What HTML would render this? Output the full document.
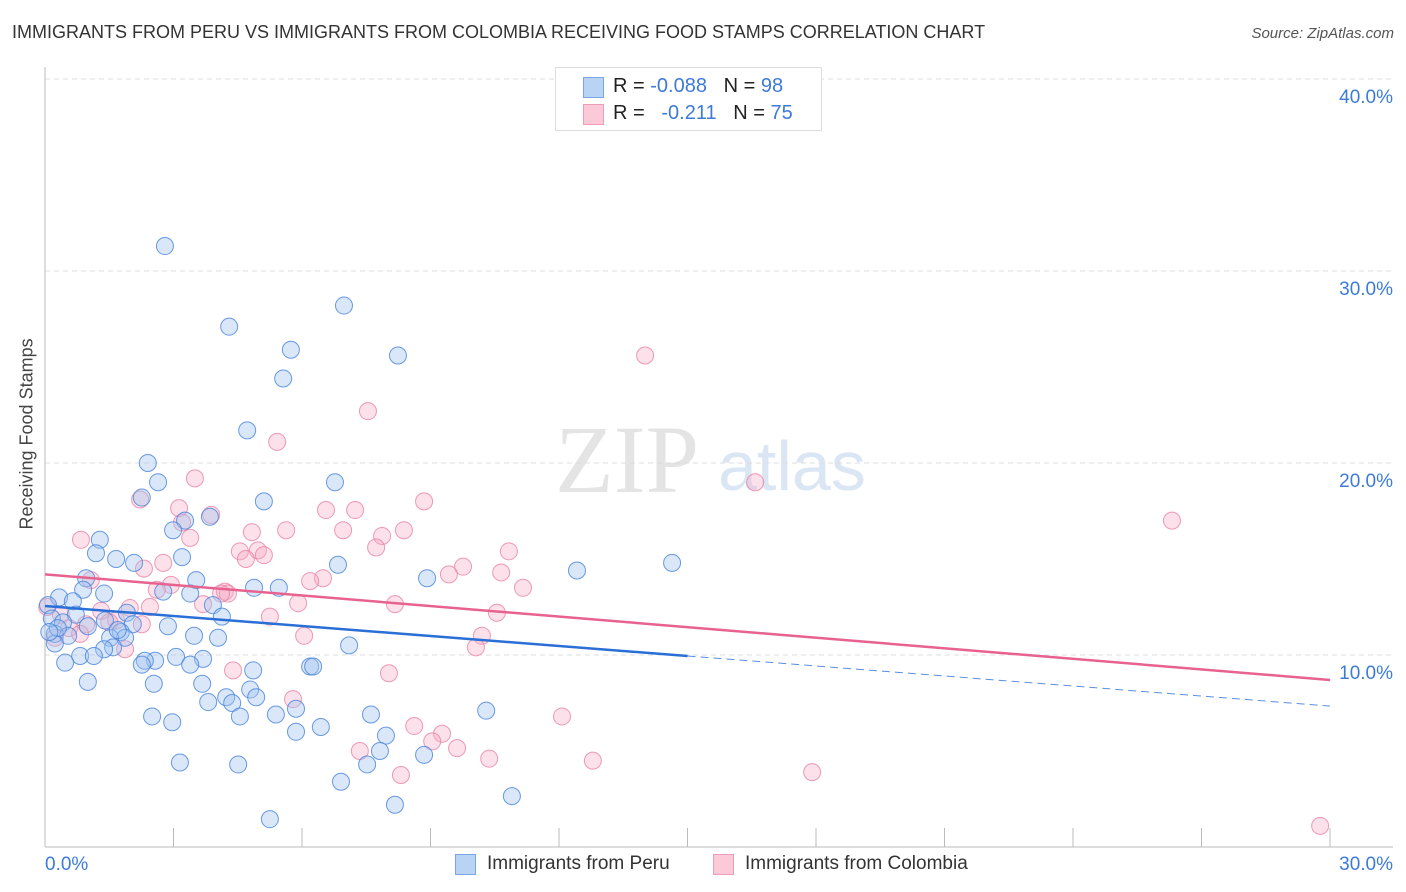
<!DOCTYPE html>
<html><head><meta charset="utf-8"><style>
body{margin:0;background:#fff;font-family:"Liberation Sans",sans-serif;}
#wrap{position:relative;width:1406px;height:892px;overflow:hidden;}
.t{position:absolute;white-space:nowrap;}
</style></head><body>
<div id="wrap">
<div class="t" style="left:12px;top:22px;font-size:18px;color:#333;">IMMIGRANTS FROM PERU VS IMMIGRANTS FROM COLOMBIA RECEIVING FOOD STAMPS CORRELATION CHART</div>
<div class="t" style="right:12px;top:25px;font-size:15px;color:#555;font-style:italic;">Source: ZipAtlas.com</div>
<div class="t" style="left:-48px;top:444px;font-size:18px;color:#444;transform:rotate(-90deg);transform-origin:center;width:150px;text-align:center;">Receiving Food Stamps</div>
<svg id="chart" width="1406" height="892" style="position:absolute;left:0;top:0;">
<text x="555" y="492" font-family="Liberation Serif,serif" font-size="96" fill="#e4e4e4">ZIP</text>
<text x="718" y="490" font-family="Liberation Sans,sans-serif" font-size="70" fill="#dbe6f5">atlas</text>
</svg>
<div style="position:absolute;left:555px;top:67px;width:265px;height:62px;border:1px solid #ddd;background:#fff;font-size:20px;">
 <div style="position:absolute;left:27px;top:9px;width:19px;height:19px;background:#b9d3f5;border:1px solid #7aa6e8;"></div>
 <div class="t" style="left:57px;top:7px;color:#222;">R = <span style="color:#3d7bd9">-0.088</span>&nbsp;&nbsp;&nbsp;N = <span style="color:#3d7bd9">98</span></div>
 <div style="position:absolute;left:27px;top:36px;width:19px;height:19px;background:#fbc9d7;border:1px solid #ef9db6;"></div>
 <div class="t" style="left:57px;top:34px;color:#222;">R = &nbsp;&nbsp;<span style="color:#3d7bd9">-0.211</span>&nbsp;&nbsp;&nbsp;N = <span style="color:#3d7bd9">75</span></div>
</div>
<div style="position:absolute;left:455px;top:853px;font-size:19px;color:#333;">
 <div style="position:absolute;left:0;top:1px;width:19px;height:19px;background:#b9d3f5;border:1px solid #7aa6e8;"></div>
 <div class="t" style="left:32px;top:0;">Immigrants from Peru</div>
 <div style="position:absolute;left:258px;top:1px;width:19px;height:19px;background:#fbc9d7;border:1px solid #ef9db6;"></div>
 <div class="t" style="left:290px;top:0;">Immigrants from Colombia</div>
</div>
</div>
<script>
const yTicks=[10,20,30,40];
const yTickLabels=["10.0%","20.0%","30.0%","40.0%"];
const xTicksMinor=[0,3,6,9,12,15,18,21,24,27,30];
const xEndLabels=["0.0%","30.0%"];
const peruX=[2.80,4.30,6.98,5.74,8.24,5.56,4.72,2.40,2.64,6.77,2.26,5.11,3.85,3.27,2.99,1.28,1.19,3.20,1.66,2.08,6.84,14.64,12.42,8.92,0.96,3.53,0.89,4.88,5.46,2.76,3.39,1.38,0.33,0.65,3.92,4.13,0.07,0.72,1.91,0.16,1.40,2.05,2.87,0.42,1.77,0.23,0.54,1.87,1.52,3.48,4.04,7.10,0.23,1.59,1.38,0.82,1.14,2.57,2.33,3.06,3.69,0.47,2.26,4.86,3.39,6.19,6.26,1.00,2.54,3.67,4.79,4.23,4.93,3.81,4.37,5.86,10.30,2.50,4.55,5.39,7.61,2.97,6.44,5.86,7.96,7.82,8.85,7.52,3.15,4.51,6.91,10.90,8.17,5.25,0.30,0.10,1.00,1.70];
const peruY=[31.3,27.1,28.2,25.9,25.6,24.4,21.7,20.0,19.0,19.0,18.2,18.0,17.2,17.0,16.5,16.0,15.3,15.1,15.0,14.8,14.7,14.8,14.4,14.0,14.0,13.9,13.4,13.5,13.5,13.3,13.2,13.2,13.0,12.8,12.6,12.0,12.6,12.1,12.2,11.9,11.8,11.6,11.5,11.7,11.2,11.1,11.0,10.9,10.9,11.0,10.9,10.5,10.6,10.4,10.3,9.95,9.95,9.7,9.7,9.9,9.8,9.6,9.5,9.2,9.5,9.4,9.4,8.6,8.5,8.5,8.2,7.8,7.8,7.55,7.5,7.2,7.1,6.8,6.8,6.9,6.9,6.5,6.25,6.0,5.8,5.0,4.8,4.3,4.4,4.3,3.4,2.65,2.2,1.45,11.4,11.2,11.5,11.3];
const colX=[14.01,7.54,5.42,3.50,16.58,2.22,8.85,6.56,7.24,3.13,3.88,26.31,3.20,4.83,5.63,6.96,8.38,3.39,0.84,7.87,4.55,4.97,7.73,10.83,5.11,4.69,2.76,2.31,9.76,9.43,10.65,6.49,6.19,1.07,2.94,11.16,2.61,4.20,4.27,4.11,3.69,2.45,5.91,8.17,0.05,1.31,1.98,10.55,5.25,0.96,1.66,2.26,0.56,6.05,10.20,0.23,10.06,1.87,4.39,8.03,5.79,12.07,8.62,9.27,9.04,9.62,7.35,10.37,12.79,8.31,17.91,29.77,0.37,0.82,1.50];
const colY=[25.6,22.7,21.1,19.2,19.0,18.1,18.0,17.55,17.55,17.65,17.3,17.0,16.9,16.4,16.5,16.5,16.5,16.1,16.0,16.2,15.4,15.45,15.6,15.4,15.2,15.0,14.8,14.5,14.6,14.2,14.3,14.0,13.85,13.9,13.65,13.5,13.4,13.3,13.2,13.2,12.65,12.5,12.7,12.65,12.5,12.3,12.45,12.2,12.0,11.6,11.8,11.6,11.4,11.0,11.0,10.9,10.4,10.3,9.2,9.05,7.7,6.8,6.3,5.9,5.5,5.15,5.0,4.6,4.5,3.75,3.9,1.1,12.1,11.1,11.7];
const peruTrend=[12.55,9.95,7.34];
const colTrend=[14.2,8.7];

const NS="http://www.w3.org/2000/svg";
const svg=document.getElementById('chart');
const X0=45,X1=1330,Y0=847,PX=(X1-X0)/30,PY=19.2;
const sx=v=>X0+v*PX, sy=v=>Y0-v*PY;
function mk(tag,attrs){const e=document.createElementNS(NS,tag);for(const k in attrs)e.setAttribute(k,attrs[k]);svg.appendChild(e);return e;}

yTicks.forEach((v,i)=>{
 const g=mk('line',{x1:X0,x2:1393,y1:sy(v),y2:sy(v),stroke:'#ddd','stroke-dasharray':'5,4'});
 
 
 const t=mk('text',{x:1393,y:sy(v)+24,'text-anchor':'end','font-size':19,fill:'#3d7bd9','font-family':'Liberation Sans,sans-serif'});
 t.textContent=yTickLabels[i];
 
 
});
const ax=mk('line',{x1:X0,x2:X0,y1:67,y2:Y0,stroke:'#bbb'});


const bx=mk('line',{x1:X0,x2:1393,y1:Y0,y2:Y0,stroke:'#bbb'});


xTicksMinor.forEach(v=>{
 const tk=mk('line',{x1:sx(v),x2:sx(v),y1:828,y2:Y0,stroke:'#bbb'});
 
 
});
const xl0=mk('text',{x:45,y:870,'font-size':19,fill:'#3d7bd9','font-family':'Liberation Sans,sans-serif'});
xl0.textContent=xEndLabels[0];


const xl1=mk('text',{x:1393,y:870,'text-anchor':'end','font-size':19,fill:'#3d7bd9','font-family':'Liberation Sans,sans-serif'});
xl1.textContent=xEndLabels[1];



colX.forEach((v,i)=>{
 const c=mk('circle',{cx:sx(v),cy:sy(colY[i]),r:8.5,fill:'rgba(246,170,195,0.35)',stroke:'rgba(232,130,165,0.8)','stroke-width':1});
 
 
});
peruX.forEach((v,i)=>{
 const c=mk('circle',{cx:sx(v),cy:sy(peruY[i]),r:8.5,fill:'rgba(160,195,240,0.4)',stroke:'rgba(70,130,220,0.8)','stroke-width':1});
 
 
});
const pl=mk('line',{x1:sx(0),y1:sy(colTrend[0]),x2:sx(30),y2:sy(colTrend[1]),stroke:'#e8628f','stroke-width':2.5});


const bl=mk('line',{x1:sx(0),y1:sy(peruTrend[0]),x2:sx(15),y2:sy(peruTrend[1]),stroke:'#2a6fd6','stroke-width':2.5});


const bd=mk('line',{x1:sx(15),y1:sy(peruTrend[1]),x2:sx(30),y2:sy(peruTrend[2]),stroke:'#5a8fe0','stroke-width':1,'stroke-dasharray':'8,5'});


</script>
</body></html>
